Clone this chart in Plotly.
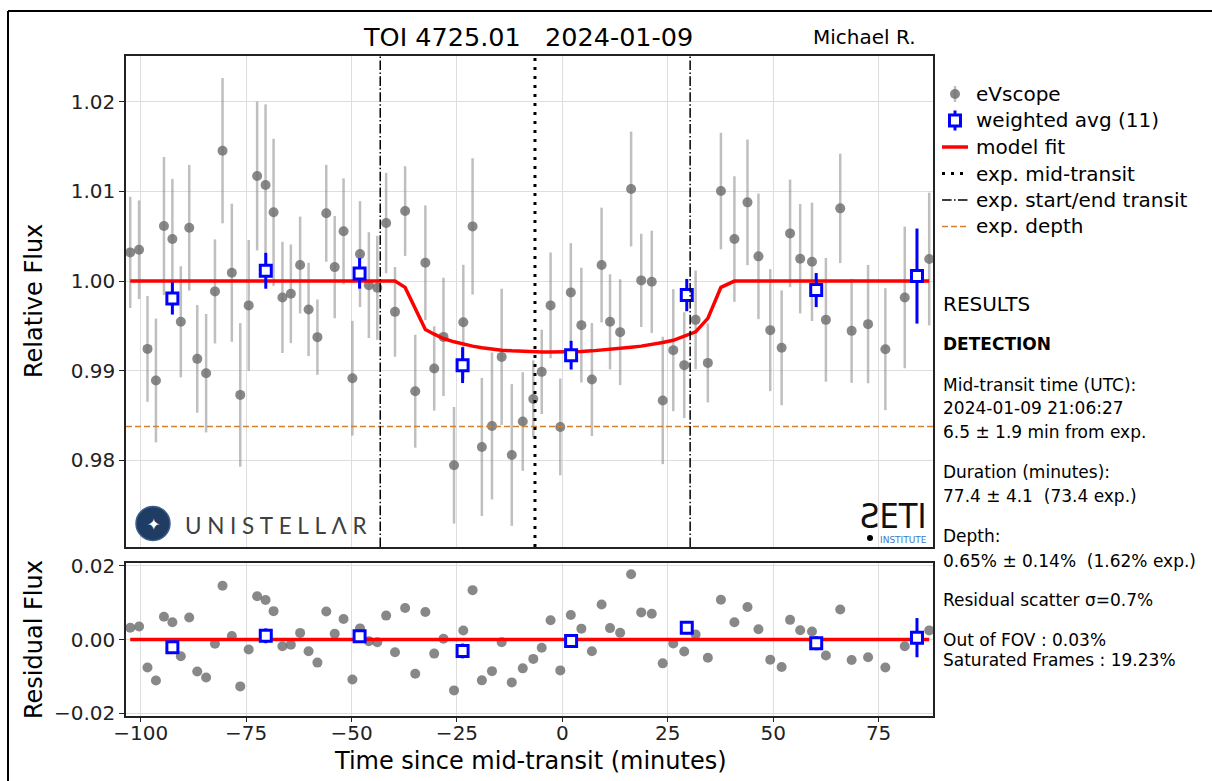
import numpy as np
import plotly.graph_objects as go

# ---------------- data ----------------
time_min = [-102.5, -100.4, -98.4, -96.4, -94.5, -92.5, -90.5, -88.5, -86.6, -84.5,
            -82.4, -80.6, -78.4, -76.4, -74.4, -72.4, -70.4, -68.5, -66.4, -64.4,
            -62.2, -60.2, -58.1, -56.0, -54.0, -51.9, -49.8, -48.0, -45.9, -43.9,
            -41.8, -39.7, -37.3, -34.9, -32.5, -30.4, -28.2, -25.7, -23.5, -21.3,
            -19.1, -16.7, -14.4, -12.0, -9.4, -6.9, -4.9, -2.8, -0.5, 2.0,
            4.5, 7.0, 9.3, 11.3, 13.7, 16.3, 18.7, 21.2, 23.8, 26.3,
            28.9, 31.6, 34.5, 37.6, 40.8, 43.9, 46.5, 49.3, 52.0, 54.0,
            56.4, 59.2, 62.5, 65.9, 68.6, 72.5, 76.6, 81.2, 87.0]

flux = [1.0032, 1.0035, 0.99244, 0.98892, 1.00614, 1.00469, 0.99546, 1.00595, 0.99133, 0.98973,
        0.99885, 1.01454, 1.00093, 0.98731, 0.99729, 1.01172, 1.01071, 1.00767, 0.99818, 0.99858,
        1.00179, 0.99684, 0.99375, 1.00756, 1.00156, 1.00555, 0.98917, 1.00301, 0.99955, 0.99925,
        1.00647, 0.99657, 1.00781, 0.98772, 1.00204, 0.99026, 0.99378, 0.97946, 0.99542, 1.0061,
        0.98151, 0.98385, 0.99155, 0.98061, 0.98434, 0.98686, 0.98988, 0.99729, 0.98374, 0.99874,
        0.99509, 0.98903, 1.00179, 0.99546, 0.99431, 1.01027, 1.00008, 0.99992, 0.98669, 0.9923,
        0.99063, 0.99568, 0.99088, 1.01004, 1.00469, 1.00878, 1.00276, 0.99453, 0.99256, 1.00532,
        1.00249, 1.00215, 0.99568, 1.00811, 0.99445, 0.9952, 0.99241, 0.99818, 1.00246]

flux_err = [0.0062, 0.0055, 0.0059, 0.0069, 0.0077, 0.0067, 0.0062, 0.0070, 0.0060, 0.0066,
            0.0058, 0.0081, 0.0077, 0.0080, 0.0073, 0.0083, 0.0090, 0.0082, 0.0062, 0.0055,
            0.0054, 0.0052, 0.0042, 0.0054, 0.0057, 0.0059, 0.0064, 0.0059, 0.0059, 0.0058,
            0.0056, 0.0050, 0.0050, 0.0063, 0.0064, 0.0047, 0.0066, 0.0065, 0.0064, 0.0076,
            0.0077, 0.0082, 0.0076, 0.0079, 0.0055, 0.0043, 0.0047, 0.0059, 0.0054, 0.0055,
            0.0064, 0.0063, 0.0064, 0.0053, 0.0059, 0.0064, 0.0052, 0.0057, 0.0071, 0.0068,
            0.0059, 0.0055, 0.0044, 0.0065, 0.0070, 0.0070, 0.0070, 0.0068, 0.0064, 0.0060,
            0.0061, 0.0066, 0.0069, 0.0061, 0.0058, 0.0066, 0.0068, 0.0079, 0.0074]

model_flux = [1.0, 1.0, 1.0, 1.0, 1.0, 1.0, 1.0, 1.0, 1.0, 1.0,
              1.0, 1.0, 1.0, 1.0, 1.0, 1.0, 1.0, 1.0, 1.0, 1.0,
              1.0, 1.0, 1.0, 1.0, 1.0, 1.0, 1.0, 1.0, 1.0, 1.0,
              1.0, 1.0, 0.9993, 0.9970, 0.99461, 0.99408, 0.9936, 0.99323, 0.99297, 0.99275,
              0.99256, 0.99241, 0.9923, 0.99222, 0.99215, 0.99211, 0.9921, 0.9921, 0.9921, 0.99211,
              0.99215, 0.99222, 0.9923, 0.99238, 0.9925, 0.99263, 0.99275, 0.99293, 0.99315, 0.9934,
              0.99386, 0.99434, 0.99584, 0.9993, 1.0, 1.0, 1.0, 1.0, 1.0, 1.0,
              1.0, 1.0, 1.0, 1.0, 1.0, 1.0, 1.0, 1.0, 1.0]

avg_time = [-92.5, -70.35, -48.1, -23.67, 2.07, 29.5, 60.2, 84.1]
avg_flux = [0.99807, 1.00115, 1.00086, 0.99063, 0.99174, 0.99844, 0.9990, 1.00056]
avg_err = [0.0018, 0.0020, 0.0017, 0.0020, 0.0016, 0.0018, 0.0019, 0.0053]
avg_resid = [-0.0021, 0.0010, 0.0009, -0.0031, -0.0004, 0.0032, -0.0010, 0.0005]

exp_mid = -6.5
exp_start = -43.2
exp_end = 30.3
exp_depth = 0.0162

x_ticks = [-100, -75, -50, -25, 0, 25, 50, 75]
x_range = [-103.5, 87.9]
y_ticks_top = [0.98, 0.99, 1.00, 1.01, 1.02]
y_range_top = [0.97035, 1.0251]
y_ticks_res = [-0.02, 0.0, 0.02]
y_range_res = [-0.0207, 0.0207]

legend_labels = ["eVscope", "weighted avg (11)", "model fit", "exp. mid-transit",
                 "exp. start/end transit", "exp. depth"]

results_lines = [
    "RESULTS",
    "<b>DETECTION</b>",
    "Mid-transit time (UTC):",
    "2024-01-09 21:06:27",
    "6.5 \u00b1 1.9 min from exp.",
    "Duration (minutes):",
    "77.4 \u00b1 4.1\u00a0\u00a0(73.4 exp.)",
    "Depth:",
    "0.65% \u00b1 0.14%\u00a0\u00a0(1.62% exp.)",
    "Residual scatter \u03c3=0.7%",
    "Out of FOV : 0.03%",
    "Saturated Frames : 19.23%",
]

resid = np.array(flux) - np.array(model_flux)

# ---------------- page geometry (pixels) ----------------
FIG_W, FIG_H = 1212, 781
L, R = 126, 933
TOP_T, TOP_B = 56, 547
RES_T, RES_B = 563, 716


def px(x):
    return x / FIG_W


def py(y):
    return (FIG_H - y) / FIG_H


FONT = "DejaVu Sans"
INK = "#222222"
GRAY_PT = "rgba(110,110,110,0.82)"
GRAY_BAR = "rgba(128,128,128,0.5)"
BLUE = "#0000ff"
RED = "#ff0000"
ORANGE = "#d4812b"
DOT_DASH = "3px,6px"
DASHDOT = "9.6px,2.4px,1.5px,2.4px"
DEPTH_DASH = "6px,3px"

fig = go.Figure()

# ---- light-curve panel ----
fig.add_trace(go.Scatter(
    x=time_min, y=flux, mode="markers",
    marker=dict(color=GRAY_PT, size=10),
    error_y=dict(type="data", array=flux_err, color=GRAY_BAR, thickness=2.5, width=0),
    xaxis="x", yaxis="y"))

fig.add_trace(go.Scatter(
    x=x_range, y=[1 - exp_depth, 1 - exp_depth], mode="lines",
    line=dict(color=ORANGE, width=1.5, dash=DEPTH_DASH), xaxis="x", yaxis="y"))

fig.add_trace(go.Scatter(
    x=time_min, y=model_flux, mode="lines",
    line=dict(color=RED, width=3.5), xaxis="x", yaxis="y"))

fig.add_trace(go.Scatter(
    x=avg_time, y=avg_flux, mode="markers",
    marker=dict(symbol="square", size=11, color="white", line=dict(color=BLUE, width=3)),
    error_y=dict(type="data", array=avg_err, color=BLUE, thickness=3, width=0),
    xaxis="x", yaxis="y"))

fig.add_trace(go.Scatter(
    x=[exp_mid, exp_mid], y=y_range_top, mode="lines",
    line=dict(color="black", width=3, dash=DOT_DASH), xaxis="x", yaxis="y"))

fig.add_trace(go.Scatter(
    x=[exp_start, exp_start, None, exp_end, exp_end],
    y=[y_range_top[0], y_range_top[1], None, y_range_top[0], y_range_top[1]],
    mode="lines", line=dict(color="black", width=1.5, dash=DASHDOT), xaxis="x", yaxis="y"))

# ---- residual panel ----
fig.add_trace(go.Scatter(
    x=time_min, y=resid, mode="markers",
    marker=dict(color=GRAY_PT, size=10), xaxis="x2", yaxis="y2"))
fig.add_trace(go.Scatter(
    x=[time_min[0], time_min[-1]], y=[0, 0], mode="lines",
    line=dict(color=RED, width=3.5), xaxis="x2", yaxis="y2"))
fig.add_trace(go.Scatter(
    x=avg_time, y=avg_resid, mode="markers",
    marker=dict(symbol="square", size=11, color="white", line=dict(color=BLUE, width=3)),
    error_y=dict(type="data", array=avg_err, color=BLUE, thickness=3, width=0),
    xaxis="x2", yaxis="y2"))

# ---- legend glyphs, drawn on a pixel-scaled helper axis ----
LEG_X0, LEG_X1 = 940, 970
LEG_ROWS = [94, 120.5, 147, 173.5, 200, 226.5]
lx_mid = (LEG_X0 + LEG_X1) / 2
fig.add_trace(go.Scatter(
    x=[lx_mid], y=[LEG_ROWS[0]], mode="markers",
    marker=dict(color=GRAY_PT, size=10),
    error_y=dict(type="data", array=[8], color=GRAY_BAR, thickness=2.5, width=0),
    xaxis="x3", yaxis="y3"))
fig.add_trace(go.Scatter(
    x=[lx_mid], y=[LEG_ROWS[1]], mode="markers",
    marker=dict(symbol="square", size=11, color="white", line=dict(color=BLUE, width=3)),
    error_y=dict(type="data", array=[10], color=BLUE, thickness=3, width=0),
    xaxis="x3", yaxis="y3"))
for row, colour, width, dash in [(2, RED, 3.5, "solid"), (3, "black", 3, DOT_DASH),
                                 (4, "black", 1.5, DASHDOT), (5, ORANGE, 1.5, DEPTH_DASH)]:
    fig.add_trace(go.Scatter(
        x=[LEG_X0 + 2, LEG_X1 - 2], y=[LEG_ROWS[row], LEG_ROWS[row]], mode="lines",
        line=dict(color=colour, width=width, dash=dash), xaxis="x3", yaxis="y3"))

axis_common = dict(
    showline=True, mirror=True, linecolor=INK, linewidth=1.5,
    showgrid=True, gridcolor="#dedede", gridwidth=1, zeroline=False,
    tickfont=dict(family=FONT, size=20, color=INK),
)

fig.update_layout(
    width=FIG_W, height=FIG_H,
    margin=dict(l=0, r=0, t=0, b=0, autoexpand=False),
    paper_bgcolor="white", plot_bgcolor="white",
    font=dict(family=FONT, color="black"),
    showlegend=False,
    xaxis=dict(domain=[px(L), px(R)], anchor="y", matches="x2", range=x_range,
               tickvals=x_ticks, showticklabels=False, ticks="", **axis_common),
    yaxis=dict(domain=[py(TOP_B), py(TOP_T)], anchor="x", range=y_range_top,
               tickvals=y_ticks_top, tickformat=".2f",
               ticks="outside", ticklen=5, tickcolor=INK, **axis_common),
    xaxis2=dict(domain=[px(L), px(R)], anchor="y2", range=x_range,
                tickvals=x_ticks, ticks="outside", ticklen=4, tickcolor=INK,
                ticklabelstandoff=-6, **axis_common),
    yaxis2=dict(domain=[py(RES_B), py(RES_T)], anchor="x2", range=y_range_res,
                tickvals=y_ticks_res, tickformat=".2f",
                ticks="outside", ticklen=5, tickcolor=INK, **axis_common),
    xaxis3=dict(domain=[px(LEG_X0), px(LEG_X1)], anchor="y3", range=[LEG_X0, LEG_X1],
                visible=False, fixedrange=True),
    yaxis3=dict(domain=[py(240), py(80)], anchor="x3", range=[240, 80],
                visible=False, fixedrange=True),
)

annotations = []


def add_text(text, x, y, size, xanchor="left", color="black", family=FONT, angle=0):
    annotations.append(dict(
        text=text, x=px(x), y=py(y), xref="paper", yref="paper",
        xanchor=xanchor, yanchor="middle", showarrow=False, textangle=angle,
        font=dict(family=family, size=size, color=color)))


add_text("TOI 4725.01\u00a0\u00a0\u00a02024-01-09", 528, 37, 25.5, xanchor="center")
add_text("Michael R.", 811, 37, 20)
add_text("Relative Flux", 34, 301, 24, xanchor="center", angle=-90)
add_text("Residual Flux", 34, 640, 24, xanchor="center", angle=-90)
add_text("Time since mid-transit (minutes)", 530, 761, 24, xanchor="center")

for label, row in zip(legend_labels, LEG_ROWS):
    add_text(label, 974, row, 20)

results_rows = [304, 344, 385, 408, 432, 472, 496, 536, 561, 600, 640, 660]
for i, (txt, yy) in enumerate(zip(results_lines, results_rows)):
    size = 20 if i == 0 else 17
    add_text(txt, 941, yy, size)

# logos
add_text("U\u2005N\u2005I\u2005S\u2005T\u2005E\u2005L\u2005L\u2005\u039b\u2005R", 183, 525, 22.5,
         color="#3f3f3f", family="Lato")
add_text("\u2726", 153, 524, 16, xanchor="center", color="white")
add_text("\u01a7ETI", 893, 516, 34, xanchor="center", color="#111111",
         family="DejaVu Sans Condensed, DejaVu Sans")
add_text("INSTITUTE", 903, 539.5, 9, xanchor="center", color="#3d78c4")

fig.update_layout(annotations=annotations)

fig.update_layout(shapes=[
    # outer frame: top and left edges
    dict(type="line", xref="paper", yref="paper",
         x0=px(8), y0=py(11), x1=1.0, y1=py(11),
         line=dict(color="black", width=2), layer="above"),
    dict(type="line", xref="paper", yref="paper",
         x0=px(8), y0=py(11), x1=px(8), y1=0.0,
         line=dict(color="black", width=2), layer="above"),
    # Unistellar emblem
    dict(type="circle", xref="paper", yref="paper",
         x0=px(136), x1=px(170), y0=py(540.5), y1=py(506.5),
         line=dict(color="#3b5f8a", width=1.5), fillcolor="#1f3c63", layer="above"),
    # SETI dot
    dict(type="circle", xref="paper", yref="paper",
         x0=px(867), x1=px(873), y0=py(541), y1=py(535),
         line=dict(color="black", width=0), fillcolor="black", layer="above"),
])

fig.write_html("out.html")
